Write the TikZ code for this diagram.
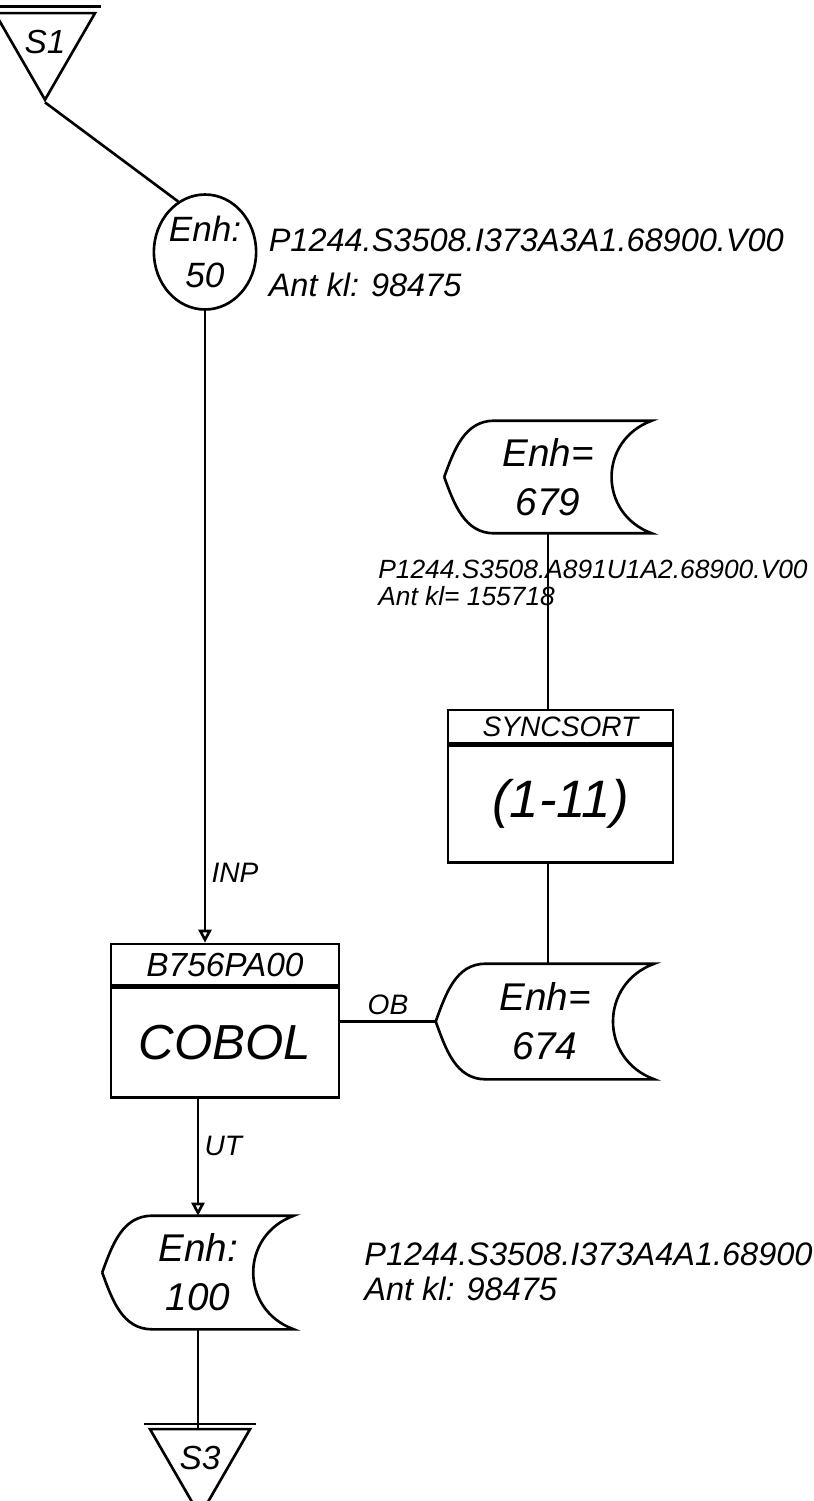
\documentclass[tikz,border=0pt]{standalone}
\usepackage{fontspec}
\setmainfont{Liberation Sans}
\usetikzlibrary{arrows.meta,positioning,shapes.geometric}

% data set symbol drawn round a plain node
\newcommand{\drawstore}[1]{%
  \draw (#1.west) to[out=70,in=180] ([xshift=1cm]#1.north west) -- (#1.north east)
    to[out=200,in=160,looseness=1.3] (#1.south east) -- ([xshift=1cm]#1.south west)
    to[out=180,in=-70] (#1.west);}

\begin{document}
\begin{tikzpicture}[x=0.02cm, y=0.02cm, line width=1.5pt,
  stor/.style={minimum width=4.1cm, minimum height=2.2cm, align=center, inner sep=0pt, font=\itshape\fontsize{22}{28}\selectfont},
  box/.style={draw, minimum width=4.56cm, inner sep=0pt},
  stopp/.style={draw, regular polygon, regular polygon sides=3, shape border rotate=180, inner sep=0pt, minimum size=1.64cm, font=\itshape\fontsize{19}{19}\selectfont},
  lbl/.style={anchor=west, align=left, inner sep=0pt, font=\itshape\fontsize{18.5}{25.6}\selectfont},
  tag/.style={font=\itshape\fontsize{16}{16}\selectfont, inner sep=3pt},
  arr/.style={-{Triangle[open, length=2.6mm, width=2.6mm]}}]
\useasboundingbox (0,0) rectangle (814,-1501);

\node[stopp] (s1) at (45,-42) {S1};
\draw ([shift={(-4,5)}]s1.corner 3) -- ([shift={(4,5)}]s1.corner 2);
\node[draw, ellipse, minimum width=1.76cm, minimum height=2.3cm, inner sep=0pt, align=center, font=\itshape\fontsize{20}{26}\selectfont] (e50) at (205,-252) {Enh:\\50};
\node[lbl, right=0.2cm of e50, yshift=-0.22cm] (l50) {P1244.S3508.I373A3A1.68900.V00\\Ant kl: 98475};

\node[stor] (e679) at (548,-477) {Enh=\\679};
\node[lbl, font=\itshape\fontsize{15}{15.5}\selectfont] (l679) at (377,-583) {P1244.S3508.A891U1A2.68900.V00\\Ant kl= 155718};
\node[box, minimum width=4.5cm, minimum height=0.66cm, font=\itshape\fontsize{16}{16}\selectfont] (sorthd) at (560.5,-726.5) {SYNCSORT};
\node[box, minimum width=4.5cm, minimum height=2.34cm, below=0pt of sorthd, font=\itshape\fontsize{30}{30}\selectfont] (sortbd) {(1-11)};
\node[stor, minimum width=4.32cm, minimum height=2.26cm] (e674) at (545,-1021.5) {Enh=\\674};

\node[box, minimum height=0.82cm, font=\itshape\fontsize{19}{19}\selectfont] (hdr) at (225,-964.5) {B756PA00};
\node[box, minimum height=2.2cm, below=0pt of hdr, font=\itshape\fontsize{28}{28}\selectfont] (cobol) {COBOL};

\node[stor, minimum width=3.78cm, minimum height=2.22cm] (e100) at (198,-1272.5) {Enh:\\100};
\node[lbl, font=\itshape\fontsize{18.5}{19.9}\selectfont] (l100) at (363,-1272) {P1244.S3508.I373A4A1.68900\\Ant kl: 98475};
\node[stopp, minimum size=1.68cm] (s3) at (200,-1458) {S3};
\draw ([shift={(-4,4)}]s3.corner 3) -- ([shift={(4,4)}]s3.corner 2);

\drawstore{e679}
\drawstore{e674}
\drawstore{e100}

\draw (s1.corner 1) -- (e50.118);
\draw[arr] (e50.south) -- node[tag, right, pos=0.89] {INP} (e50.south |- hdr.north);
\draw (e679.south) -- (e679.south |- sorthd.north);
\draw (sortbd.south -| e679.south) -- (e674.north -| e679.south);
\draw (cobol.east |- e674.west) -- node[tag, above] {OB} (e674.west);
\draw[arr] (cobol.south -| e100.north) -- node[tag, right, pos=0.4] {UT} (e100.north);
\draw (e100.south) -- (e100.south |- s3.north);
\end{tikzpicture}
\end{document}
